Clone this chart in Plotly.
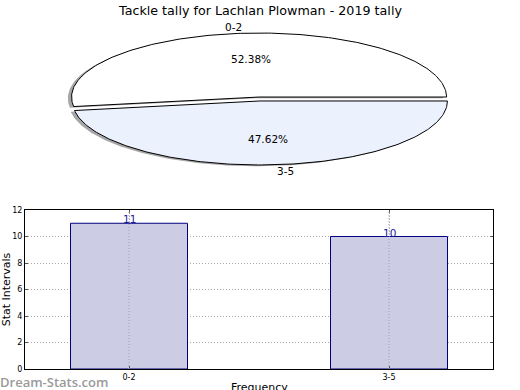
import numpy as np
import plotly.graph_objects as go

title = "Tackle tally for Lachlan Plowman - 2019 tally"
categories = ["0-2", "3-5"]
counts = [11, 10]
pie_colors = ["#FFFFFF", "#EBF1FD"]
explode = 0.031

W, H = 520, 390
fig = go.Figure()

# ---------- pie (squashed ellipse as in source) ----------
total = sum(counts)
fracs = [c / total for c in counts]
start = 0.0
shadow_dx, shadow_dy = -0.02, -0.02
wedges = []
for lab, f, col in zip(categories, fracs, pie_colors):
    t1 = start
    t2 = start + f * 360.0
    mid = np.deg2rad((t1 + t2) / 2)
    ox, oy = explode * np.cos(mid), explode * np.sin(mid)
    th = np.deg2rad(np.linspace(t1, t2, 200))
    xs = np.concatenate([[ox], ox + np.cos(th), [ox]])
    ys = np.concatenate([[oy], oy + np.sin(th), [oy]])
    wedges.append((lab, f, col, xs, ys, mid, ox, oy))
    start = t2

for lab, f, col, xs, ys, mid, ox, oy in wedges:
    fig.add_trace(go.Scatter(x=xs + shadow_dx, y=ys + shadow_dy, mode="lines",
                             fill="toself", fillcolor="rgba(77,77,77,0.5)",
                             line=dict(width=0), hoverinfo="skip",
                             xaxis="x2", yaxis="y2", showlegend=False))
for lab, f, col, xs, ys, mid, ox, oy in wedges:
    fig.add_trace(go.Scatter(x=xs, y=ys, mode="lines", fill="toself",
                             fillcolor=col, line=dict(color="black", width=1),
                             hoverinfo="skip", xaxis="x2", yaxis="y2",
                             showlegend=False))
    lx, ly = 1.1 * np.cos(mid) + ox, 1.1 * np.sin(mid) + oy
    fig.add_annotation(x=lx, y=ly, xref="x2", yref="y2", text=lab,
                       showarrow=False, xanchor="right" if lx < 0 else "left",
                       yanchor="middle", font=dict(size=10.5, color="black"))
    px, py = 0.6 * np.cos(mid) + ox, 0.6 * np.sin(mid) + oy
    fig.add_annotation(x=px, y=py, xref="x2", yref="y2",
                       text=f"{f*100:.2f}%", showarrow=False,
                       font=dict(size=10.5, color="black"))

# ---------- bar chart ----------
xpos = list(range(len(categories)))
fig.add_trace(go.Bar(x=xpos, y=counts, width=0.45,
                     marker=dict(color="#CCCCE4", line=dict(color="#000080", width=1)),
                     xaxis="x", yaxis="y", showlegend=False, hoverinfo="skip"))
for i, c in zip(xpos, counts):
    fig.add_annotation(x=i, y=c, xref="x", yref="y", text=str(c), showarrow=False,
                       yanchor="bottom", yshift=-4,
                       font=dict(size=10.5, color="#1a1a99"))
    # vertical grid line drawn over the bar, as in the source
    fig.add_shape(type="line", x0=i, x1=i, y0=0, y1=1, xref="x", yref="y domain",
                  line=dict(color="#a0a0b0", width=1, dash="1px,2px"), layer="above")

axis_common = dict(showline=True, linecolor="black", linewidth=1, mirror="ticks",
                   ticks="inside", ticklen=3, tickcolor="#555555", automargin=False,
                   showgrid=True, gridcolor="#a8a8a8", griddash="1px,2px", gridwidth=1,
                   zeroline=False, tickfont=dict(size=8, color="black"))

fig.update_layout(
    width=W, height=H, margin=dict(l=0, r=0, t=0, b=0, autoexpand=False),
    paper_bgcolor="white", plot_bgcolor="rgba(0,0,0,0)",
    font=dict(family="DejaVu Sans", color="black"),
    xaxis=dict(domain=[25 / W, 493 / W], range=[-0.4, 1.4],
               tickvals=xpos, ticktext=categories,
               anchor="y", **axis_common),
    yaxis=dict(domain=[(H - 369) / H, (H - 210) / H], range=[0, 12],
               tickvals=[0, 2, 4, 6, 8, 10, 12],
               title=dict(text="Stat Intervals", font=dict(size=11), standoff=4),
               anchor="x", **axis_common),
    xaxis2=dict(domain=[0, 1], range=[-259.5 / 187.5, (W - 259.5) / 187.5],
                visible=False, fixedrange=True, automargin=False),
    yaxis2=dict(domain=[0.5, 1], range=[-96 / 64, 99 / 64],
                visible=False, fixedrange=True, automargin=False),
)

# x-axis title, partly cut by the bottom edge as in the source
fig.add_annotation(x=(25 + 493) / 2 / W, y=0, xref="paper", yref="paper",
                   text="Frequency", showarrow=False, yanchor="top", yshift=11,
                   font=dict(size=11, color="black"))
fig.add_annotation(x=0.5, y=1 - 10 / H, xref="paper", yref="paper", text=title,
                   showarrow=False, yanchor="middle",
                   font=dict(size=12.7, color="black"))
fig.add_annotation(x=0, y=8.5 / H, xref="paper", yref="paper",
                   text="Dream-Stats.com", showarrow=False,
                   xanchor="left", yanchor="middle", xshift=-2,
                   font=dict(family="Open Sans", size=13, weight=600, color="#9a9a9a"))

fig.write_html("out.html", config={"displayModeBar": False},
               post_script="document.body.style.margin='0';document.body.style.overflow='hidden';")
